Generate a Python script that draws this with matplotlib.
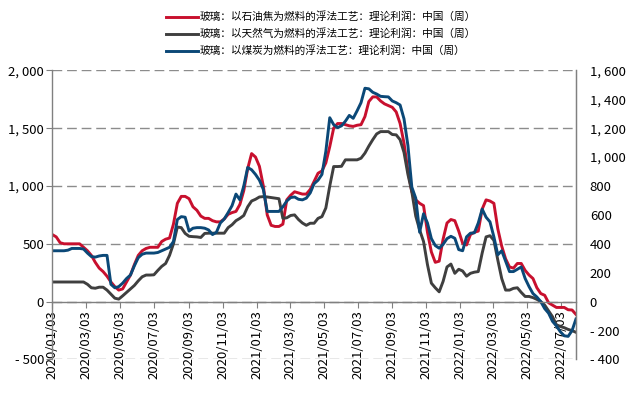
import matplotlib
matplotlib.use("Agg")
import matplotlib.pyplot as plt
import pandas as pd

plt.rcParams['font.family'] = ['Noto Sans CJK SC', 'DejaVu Sans']

# weekly theoretical profit, first week 2020/01/03
start_date = '2020-01-03'
red_vals = [580, 560, 510, 500, 500, 500, 500, 500, 470, 440,
            400, 340, 290, 260, 220, 170, 130, 100, 110, 170,
            230, 320, 400, 440, 460, 470, 470, 470, 520, 540,
            550, 670, 850, 910, 910, 890, 820, 790, 740, 720,
            720, 700, 690, 690, 715, 755, 770, 780, 840, 960,
            1150, 1280, 1250, 1170, 1000, 750, 660, 650, 650, 670,
            880, 920, 950, 940, 930, 930, 970, 1040, 1110, 1130,
            1200, 1340, 1500, 1540, 1540, 1530, 1520, 1515, 1525, 1530,
            1600, 1730, 1770, 1770, 1735, 1710, 1695, 1680, 1640, 1540,
            1370, 1130, 950, 880, 850, 830, 600, 430, 340, 350,
            540, 680, 710, 700, 610, 505, 490, 580, 600, 610,
            800, 880, 870, 850, 630, 480, 370, 300, 290, 330,
            330, 270, 230, 200, 120, 70, 55, -10, -30, -50,
            -50, -50, -70, -72, -110]
gas_vals = [170, 170, 170, 170, 170, 170, 170, 170, 170, 150,
            120, 116, 125, 125, 100, 65, 30, 22, 50, 80,
            110, 140, 180, 215, 230, 230, 232, 270, 305, 330,
            400, 500, 645, 640, 590, 565, 562, 560, 555, 590,
            592, 592, 592, 592, 592, 640, 665, 700, 720, 745,
            820, 870, 885, 905, 908, 905, 900, 895, 890, 720,
            725, 745, 750, 710, 680, 660, 678, 678, 720, 735,
            810, 1000, 1168, 1168, 1170, 1226, 1226, 1226, 1226, 1240,
            1284, 1345, 1400, 1450, 1470, 1470, 1470, 1445, 1442, 1400,
            1290, 1100, 950, 740, 620, 520, 320, 160, 120, 85,
            175, 300, 325, 245, 280, 265, 220, 245, 255, 260,
            420, 560, 570, 530, 360, 200, 100, 100, 115, 120,
            80, 45, 45, 35, 20, 0, -30, -80, -130, -200,
            -215, -225, -240, -250, -265]
coal_vals = [440, 440, 440, 440, 445, 460, 460, 460, 455, 420,
             390, 385, 395, 400, 400, 150, 120, 130, 160, 200,
             230, 310, 380, 410, 420, 420, 420, 425, 440, 455,
             470, 520, 710, 735, 730, 610, 635, 640, 640, 635,
             620, 580, 600, 680, 715, 770, 830, 930, 880, 1000,
             1160, 1140, 1100, 1050, 970, 780, 780, 780, 780, 820,
             870, 900, 905, 885, 880, 895, 940, 1020, 1050, 1100,
             1300, 1590, 1530, 1505, 1520, 1560, 1610, 1585, 1650, 1720,
             1845, 1840, 1810, 1795, 1775, 1772, 1770, 1735, 1720, 1700,
             1580, 1350, 990, 895, 600, 760, 680, 545, 485, 462,
             495, 545, 565, 548, 450, 440, 560, 592, 595, 680,
             800, 730, 690, 560, 405, 440, 350, 260, 260, 280,
             300, 200, 130, 70, 40, 0, -60, -100, -170, -210,
             -260, -295, -300, -250, -150]
names = ['玻璃：以石油焦为燃料的浮法工艺：理论利润：中国（周）',
         '玻璃：以天然气为燃料的浮法工艺：理论利润：中国（周）',
         '玻璃：以煤炭为燃料的浮法工艺：理论利润：中国（周）']
colors = ['#C8102E', '#3F3F3F', '#0B4877']
left_ticks = [-500, 0, 500, 1000, 1500, 2000]
right_ticks = [-400, -200, 0, 200, 400, 600, 800, 1000, 1200, 1400, 1600]
tick_dates = ['2020-01-03', '2020-03-03', '2020-05-03', '2020-07-03',
              '2020-09-03', '2020-11-03', '2021-01-03', '2021-03-03',
              '2021-05-03', '2021-07-03', '2021-09-03', '2021-11-03',
              '2022-01-03', '2022-03-03', '2022-05-03', '2022-07-03']

dates = pd.date_range(start_date, periods=len(red_vals), freq='7D')


def fmt(v):
    s = '{:,}'.format(abs(int(v))).replace(',', ', ')
    return '- ' + s if v < 0 else s


fig = plt.figure(figsize=(6.27, 3.99), dpi=100)
ax = fig.add_axes([0.0834, 0.099, 0.8352, 0.7248])

lines = []
for vals, c, n in zip([red_vals, gas_vals, coal_vals], colors, names):
    ln, = ax.plot(dates, vals, color=c, lw=2.1, label=n)
    lines.append(ln)

ax.set_xlim(dates[0], dates[-1])
ax.set_ylim(-500, 2000)
ax.set_yticks(left_ticks)
ax.set_yticklabels([fmt(v) for v in left_ticks], fontsize=9.5)
ax.grid(axis='y', color='#8C8C8C', lw=1.0, ls=(0, (7, 3.5)))
ax.set_axisbelow(True)

ax.spines['bottom'].set_position(('data', 0))
ax.spines['top'].set_visible(False)
for s in ['left', 'right', 'bottom']:
    ax.spines[s].set_color('#808080')
    ax.spines[s].set_linewidth(1.0)
ax.tick_params(axis='y', direction='out', length=4, color='#808080', pad=2)

ax2 = ax.twinx()
ax2.set_ylim(-400, 1600)
ax2.set_yticks(right_ticks)
ax2.set_yticklabels([fmt(v) for v in right_ticks], fontsize=9.5)
ax2.spines['top'].set_visible(False)
ax2.spines['left'].set_visible(False)
ax2.spines['bottom'].set_visible(False)
ax2.spines['right'].set_color('#808080')
ax2.tick_params(axis='y', length=0, pad=10)

xt = pd.to_datetime(tick_dates)
ax.set_xticks(xt)
ax.set_xticklabels([d.strftime('%Y/%m/%d') for d in xt])
ax.tick_params(axis='x', direction='out', length=4, color='#808080', pad=2,
               labelrotation=90, labelsize=9.5)
for t in ax.get_xticklabels():
    t.set_va('top')
    t.set_ha('center')

fig.legend(handles=lines, loc='upper center', bbox_to_anchor=(0.512, 0.99),
           frameon=False, fontsize=7.7, handlelength=3.0, handletextpad=0.15,
           labelspacing=0.58, borderaxespad=0.3)

fig.savefig('out.png', dpi=100)
